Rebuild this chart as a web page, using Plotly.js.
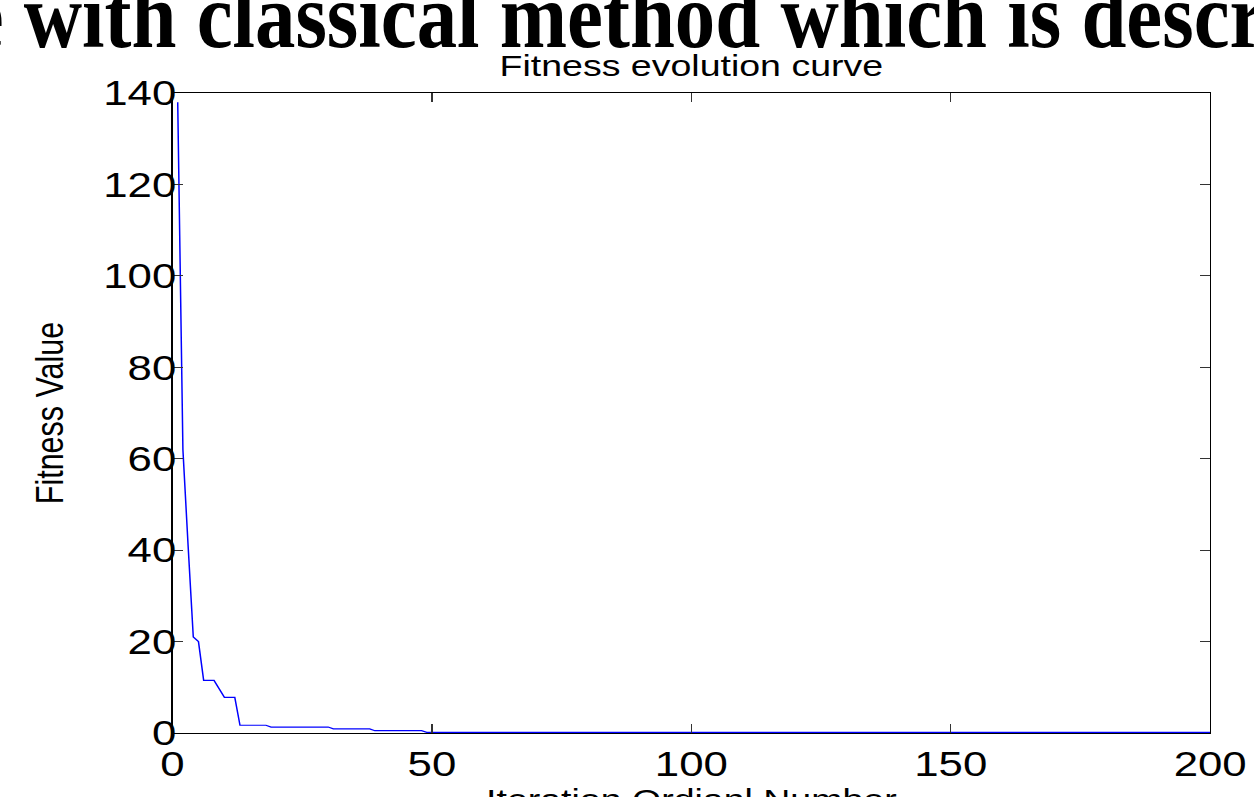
<!DOCTYPE html>
<html>
<head>
<meta charset="utf-8">
<script src="https://cdn.plot.ly/plotly-3.0.1.min.js"></script>
<style>
  html, body { margin: 0; padding: 0; background: #ffffff; overflow: hidden; width: 1254px; height: 797px; }
  #plot { width: 1003px; height: 830px; transform: scaleX(1.2502); transform-origin: 0 0; }
</style>
</head>
<body>
<div id="plot"></div>
<script>
// Data (iteration index vs best fitness)
const iterations = [1, 2, 3, 4, 5, 6, 8, 10, 12, 13, 18, 19, 30, 31, 38, 39, 48, 49, 200];
const fitness = [138, 62, 41, 21, 20, 11.5, 11.5, 7.8, 7.8, 1.7, 1.7, 1.3, 1.3, 0.9, 0.9, 0.5, 0.5, 0.15, 0.15];

const xTicks = [0, 50, 100, 150, 200];
const yTicks = [0, 20, 40, 60, 80, 100, 120, 140];

const chartTitle = 'Fitness evolution curve';
const xTitle = 'Iteration Ordianl Number';
const yTitle = 'Fitness Value';
const slideText = 'e with classical method which is descr';

const sans = 'Liberation Sans, Arial, Helvetica, sans-serif';

const trace = {
  x: iterations,
  y: fitness,
  type: 'scatter',
  mode: 'lines',
  line: { color: '#0000ff', width: 1.2 },
  hoverinfo: 'skip'
};

const layout = {
  width: 1003,
  height: 830,
  margin: { l: 138.4, r: 35.2, t: 93, b: 97 },
  paper_bgcolor: '#ffffff',
  plot_bgcolor: '#ffffff',
  showlegend: false,
  title: {
    text: chartTitle,
    font: { family: sans, size: 30, color: '#000000' },
    x: 0.5, xref: 'paper', xanchor: 'center',
    y: 1, yref: 'paper', yanchor: 'bottom',
    pad: { b: 17 }
  },
  xaxis: {
    range: [0, 200],
    tickvals: xTicks,
    ticktext: xTicks.map(String),
    ticks: 'inside', ticklen: 9, tickwidth: 1, tickcolor: '#333333',
    showline: true, linecolor: '#000000', linewidth: 1,
    mirror: 'ticks',
    showgrid: false, zeroline: false,
    tickfont: { family: sans, size: 35, color: '#000000' },
    title: { text: xTitle, font: { family: sans, size: 30, color: '#000000' }, standoff: 7 },
    automargin: false
  },
  yaxis: {
    range: [0, 140],
    tickvals: yTicks,
    ticktext: yTicks.map(String),
    ticks: 'inside', ticklen: 8, tickwidth: 1, tickcolor: '#333333',
    showline: true, linecolor: '#000000', linewidth: 1,
    mirror: 'ticks',
    showgrid: false, zeroline: false,
    tickfont: { family: sans, size: 35, color: '#000000' },
    ticklabelstandoff: -11,
    title: { text: yTitle, font: { family: sans, size: 30.5, color: '#000000' }, standoff: 22 },
    automargin: false
  },
  annotations: [{
    text: slideText,
    xref: 'paper', yref: 'paper',
    x: -0.2006, y: 1.037,
    xanchor: 'left', yanchor: 'bottom',
    showarrow: false,
    font: { family: 'Liberation Serif, Times New Roman, serif', size: 94, color: '#000000', weight: 'bold' }
  }]
};

Plotly.newPlot('plot', [trace], layout, { staticPlot: true, displayModeBar: false }).then(function (gd) {
  // the slide heading in the reference is horizontally condensed
  const t = gd.querySelector('.annotation-text');
  if (t) {
    const bb = t.getBBox();
    const k = 0.688;
    t.setAttribute('transform', 'translate(' + bb.x + ',0) scale(' + k + ',1) translate(' + (-bb.x) + ',0)');
  }
});
</script>
</body>
</html>
